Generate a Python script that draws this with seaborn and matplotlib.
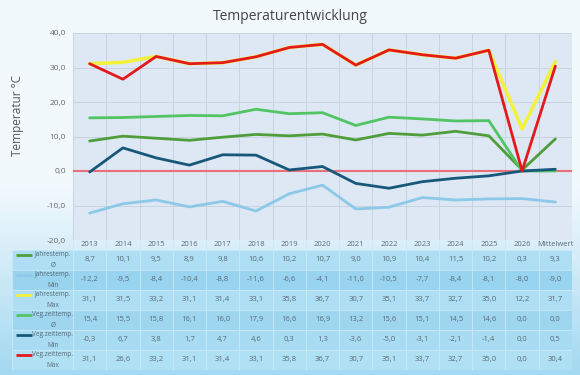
import matplotlib
matplotlib.use("Agg")

import matplotlib.pyplot as plt
import numpy as np
import pandas as pd
import seaborn as sns

YEARS = ["2013", "2014", "2015", "2016", "2017", "2018", "2019", "2020",
         "2021", "2022", "2023", "2024", "2025", "2026", "Mittelwert"]

JAHR_MEAN = [8.7, 10.1, 9.5, 8.9, 9.8, 10.6, 10.2, 10.7, 9.0, 10.9, 10.4, 11.5, 10.2, 0.3, 9.3]
JAHR_MIN = [-12.2, -9.5, -8.4, -10.4, -8.8, -11.6, -6.6, -4.1, -11.0, -10.5, -7.7, -8.4, -8.1, -8.0, -9.0]
JAHR_MAX = [31.1, 31.5, 33.2, 31.1, 31.4, 33.1, 35.8, 36.7, 30.7, 35.1, 33.7, 32.7, 35.0, 12.2, 31.7]
VEG_MEAN = [15.4, 15.5, 15.8, 16.1, 16.0, 17.9, 16.6, 16.9, 13.2, 15.6, 15.1, 14.5, 14.6, 0.0, 0.0]
VEG_MIN = [-0.3, 6.7, 3.8, 1.7, 4.7, 4.6, 0.3, 1.3, -3.6, -5.0, -3.1, -2.1, -1.4, 0.0, 0.5]
VEG_MAX = [31.1, 26.6, 33.2, 31.1, 31.4, 33.1, 35.8, 36.7, 30.7, 35.1, 33.7, 32.7, 35.0, 0.0, 30.4]

SERIES = [
    ("Jahrestemp.\nØ", JAHR_MEAN, "#4f9e3a"),
    ("Jahrestemp.\nMin", JAHR_MIN, "#8cc8e8"),
    ("Jahrestemp.\nMax", JAHR_MAX, "#f2f23a"),
    ("Veg.zeittemp.\nØ", VEG_MEAN, "#52c463"),
    ("Veg.zeittemp.\nMin", VEG_MIN, "#17587a"),
    ("Veg.zeittemp.\nMax", VEG_MAX, "#e3191c"),
]


def fmt(v):
    return f"{v:.1f}".replace(".", ",")


sns.set_style("white")
plt.rcParams["font.family"] = ["Open Sans", "DejaVu Sans"]

fig = plt.figure(figsize=(5.8, 3.75), dpi=100)

# background gradient
bg = fig.add_axes([0, 0, 1, 1], zorder=-5)
grad = np.ones((100, 1))
grad[:, 0] = np.clip((np.linspace(0, 1, 100) - 0.5) / 0.5, 0, 1)
cmap = matplotlib.colors.LinearSegmentedColormap.from_list("bgc", ["#f2f9fd", "#a3d9f1"])
bg.imshow(grad, aspect="auto", cmap=cmap, extent=[0, 1, 0, 1], origin="upper")
bg.set_axis_off()

# main chart
ax = fig.add_axes([73 / 580, 1 - 240 / 375, 499 / 580, 207 / 375])
ax.set_facecolor("#dde8f4")
x = np.arange(len(YEARS))
data = pd.DataFrame({"x": np.tile(x, len(SERIES)),
                     "wert": np.concatenate([s[1] for s in SERIES]),
                     "reihe": np.repeat([s[0] for s in SERIES], len(YEARS))})
order = [s[0] for s in SERIES]
palette = {s[0]: s[2] for s in SERIES}
ax.axhline(0, color="#e8707a", lw=1.5, zorder=1)
sns.lineplot(data=data, x="x", y="wert", hue="reihe", hue_order=order,
             palette=palette, lw=2.0, legend=False, ax=ax, zorder=3)
for ln in ax.lines[1:]:
    ln.set_solid_joinstyle("round")
ax.lines[-1].set_zorder(4)
ax.lines[3].set_linewidth(2.5)
ax.set_xlim(-0.5, len(YEARS) - 0.5)
ax.set_ylim(-20, 40)
ax.set_yticks(np.arange(-20, 41, 10))
ax.set_yticklabels([fmt(v) for v in np.arange(-20, 41, 10)], fontsize=6, color="#666666")
ax.set_xticks(np.arange(len(YEARS) + 1) - 0.5)
ax.set_xticklabels([])
ax.tick_params(length=0)
ax.tick_params(axis="y", pad=5)
ax.grid(True, color="#c9d3df", lw=0.7)
for sp in ax.spines.values():
    sp.set_visible(False)
ax.set_xlabel("")
ax.set_ylabel("")
fig.text(18 / 580, 1 - 115 / 375, "Temperatur °C", rotation=90, ha="center", va="center",
         fontsize=8.5, color="#555555")
fig.text(0.5, 1 - 16 / 375, "Temperaturentwicklung", ha="center", va="center",
         fontsize=10, color="#444444")

# data table
tab = fig.add_axes([12 / 580, 5 / 375, 560 / 580, 130 / 375])
label_w = 61 / (499 / 15)
left = -0.5 - label_w
tab.set_xlim(left, len(YEARS) - 0.5)
tab.set_ylim(0, 6.5)
tab.set_axis_off()
row_colors = ["#addef3", "#98d3ef", "#addef3", "#9ed6f0", "#a8dcf2", "#b0e0f3"]
for i, (name, vals, col) in enumerate(SERIES):
    y0 = 5 - i
    tab.add_patch(plt.Rectangle((left, y0), label_w + len(YEARS), 1,
                                color=row_colors[i], lw=0, zorder=0))
    for j, v in enumerate(vals):
        tab.text(j, y0 + 0.5, fmt(v), ha="center", va="center", fontsize=5.5, color="#5a6a76")
    tab.plot([left + 0.06 * label_w, left + 0.33 * label_w], [y0 + 0.74, y0 + 0.74],
             color=col, lw=2, solid_capstyle="butt")
    tab.text(left + 0.67 * label_w, y0 + 0.5, name, ha="center", va="center",
             fontsize=4.7, color="#5a6a76", linespacing=1.7)
for j, yr in enumerate(YEARS):
    tab.text(j, 6.25, yr, ha="center", va="center", fontsize=5.5, color="#5a6a76")
for k in range(7):
    tab.plot([left, len(YEARS) - 0.5], [k, k], color="#cbe9f6", lw=0.6)
for j in range(len(YEARS) + 1):
    tab.plot([j - 0.5, j - 0.5], [0, 6.5], color="#cbe9f6", lw=0.6)
tab.plot([left] * 2, [0, 6], color="#cbe9f6", lw=0.6)

fig.savefig("out.png", dpi=100)
plt.close(fig)
